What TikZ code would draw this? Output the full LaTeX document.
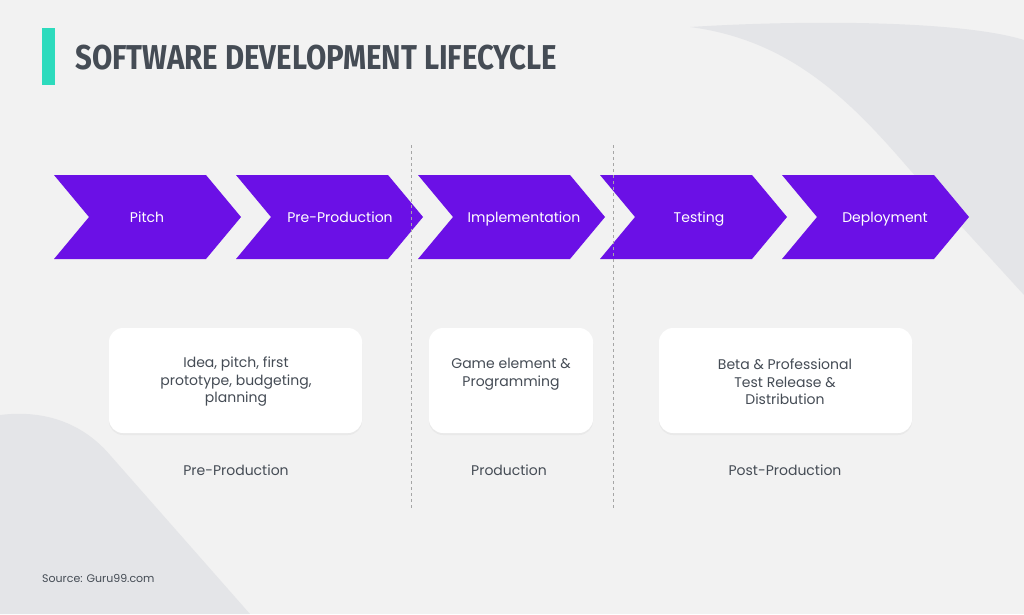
\documentclass[tikz,border=0pt]{standalone}
\usepackage{fontspec}
\setmainfont{Poppins}
\newfontfamily\titlefont{Fira Sans}
\usetikzlibrary{shadows}
\definecolor{bg}{HTML}{F2F2F2}
\definecolor{deco}{HTML}{E4E5E8}
\definecolor{purp}{HTML}{6B10E6}
\definecolor{teal}{HTML}{2DDBBD}
\definecolor{dark}{HTML}{454C55}
\tikzset{
 chev/.style={fill=purp,draw=none},
 chevtxt/.style={text=white,font=\fontsize{14}{16}\selectfont},
 card/.style={fill=white,rounded corners=14pt,draw=none,drop shadow={opacity=0.08,shadow xshift=0pt,shadow yshift=-2pt}},
 cardtxt/.style={text=dark,align=center,font=\fontsize{14}{17.5}\selectfont},
 lab/.style={text=dark,font=\fontsize{14}{16}\selectfont},
 sep/.style={draw=gray!70,dashed,thin}
}
\begin{document}
\begin{tikzpicture}[x=1pt,y=-1pt]
\fill[bg] (0,0) rectangle (1024,614);
\useasboundingbox (0,0) rectangle (1024,614);
\fill[deco] (690,27) .. controls (800,20) and (960,20) .. (1024,40) -- (1024,295) -- (910,170) .. controls (850,100) and (790,40) .. (690,27) -- cycle;
\fill[deco] (0,415) .. controls (40,410) and (80,420) .. (110,455) -- (250,614) -- (0,614) -- cycle;
\fill[teal] (42,28) rectangle (55,85);
\node[anchor=west,text=dark,inner sep=0] (title) at (75,58) {\titlefont\bfseries\fontsize{30}{30}\selectfont\scalebox{0.98}[1.15]{SOFTWARE DEVELOPMENT LIFECYCLE}};
\foreach \x/\t/\n/\o in {54/Pitch/c1/93,236/Pre-Production/c2/104,418/Implementation/c3/106,600/Testing/c4/99,782/Deployment/c5/103}{
 \fill[chev] (\x,175) -- (\x+152,175) -- (\x+187,217) -- (\x+152,259) -- (\x,259) -- (\x+35,217) -- cycle;
 \node[chevtxt,anchor=base] (\n) at (\x+\o,222) {\t};
}
\coordinate (s1a) at (411,145); \coordinate (s1b) at (411,510);
\coordinate (s2a) at (613,145); \coordinate (s2b) at (613,510);
\draw[sep] (s1a) -- (s1b);
\draw[sep] (s2a) -- (s2b);
\fill[card] (109,328) rectangle (362,433);
\fill[card] (429,328) rectangle (593,433);
\fill[card] (659,328) rectangle (912,433);
\node[cardtxt] (b1) at (236,382) {Idea, pitch, first\\prototype, budgeting,\\planning};
\node[cardtxt] (b2) at (511,374) {Game element \&\\Programming};
\node[cardtxt] (b3) at (785,382) {Beta \& Professional\\Test Release \&\\Distribution};
\node[lab] (l1) at (236,470) {Pre-Production};
\node[lab] (l2) at (509,470) {Production};
\node[lab] (l3) at (785,470) {Post-Production};
\node[anchor=west,text=dark,font=\fontsize{11}{13}\selectfont,inner sep=0] (src) at (42,578) {Source: Guru99.com};
\end{tikzpicture}
\end{document}
